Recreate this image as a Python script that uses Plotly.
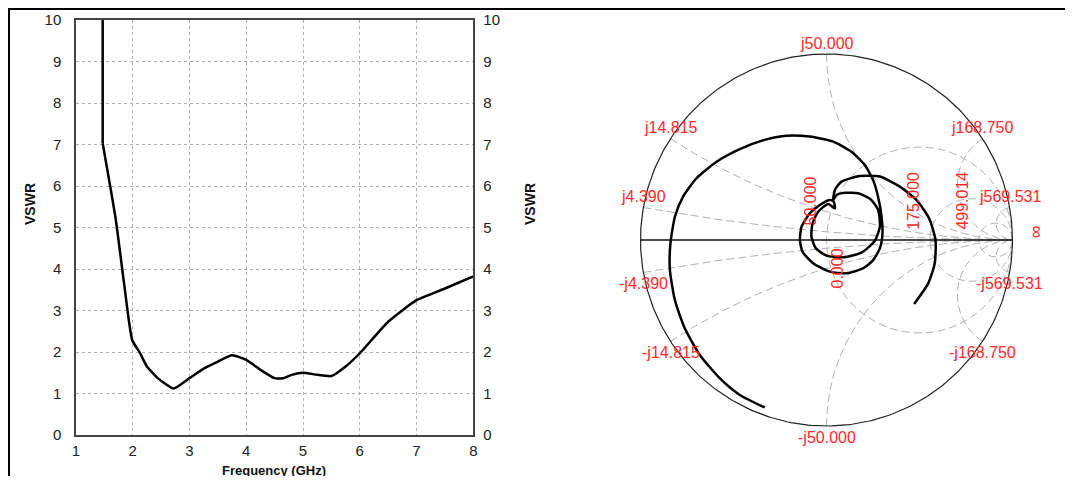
import numpy as np
import plotly.graph_objects as go

# ---------------- data: VSWR vs frequency ----------------
freq_ghz = [1.47, 1.47, 1.70, 1.85, 1.99, 2.13, 2.25, 2.44, 2.72, 3.00, 3.25, 3.50,
            3.75, 4.00, 4.25, 4.50, 4.65, 4.80, 5.00, 5.25, 5.50, 5.75, 6.00,
            6.50, 7.00, 7.50, 8.00]
vswr = [10.0, 7.03, 5.20, 3.62, 2.29, 1.97, 1.65, 1.37, 1.12, 1.37, 1.60, 1.77,
        1.92, 1.81, 1.57, 1.37, 1.37, 1.45, 1.50, 1.45, 1.42, 1.65, 1.97,
        2.73, 3.25, 3.53, 3.82]
x_ticks = [1, 2, 3, 4, 5, 6, 7, 8]
y_ticks = [0, 1, 2, 3, 4, 5, 6, 7, 8, 9, 10]

# ---------------- data: reflection coefficient (Smith chart) ----------------
gamma_re = [-0.332, -0.466, -0.573, -0.681, -0.762, -0.815, -0.842, -0.839, -0.815,
            -0.771, -0.699, -0.591, -0.466, -0.323, -0.215, -0.090, 0.036, 0.134,
            0.206, 0.254, 0.281, 0.296, 0.301, 0.287, 0.251, 0.197, 0.108, 0.018,
            -0.072, -0.129, -0.143, -0.134, -0.090, -0.036, 0.018, 0.039, 0.045,
            0.009, -0.045, -0.075, -0.081, -0.057, 0.000, 0.090, 0.188, 0.260,
            0.287, 0.278, 0.237, 0.170, 0.099, 0.054, 0.036,
            0.045, 0.081, 0.179, 0.287, 0.394, 0.484, 0.552, 0.586, 0.582, 0.547, 0.471]
gamma_im = [-0.900, -0.833, -0.744, -0.618, -0.475, -0.323, -0.161, -0.018, 0.125,
            0.233, 0.332, 0.421, 0.489, 0.541, 0.561, 0.556, 0.529, 0.475,
            0.403, 0.314, 0.215, 0.125, 0.036, -0.045, -0.108, -0.152, -0.179, -0.170,
            -0.125, -0.063, 0.000, 0.072, 0.143, 0.188, 0.215, 0.206, 0.170,
            0.194, 0.152, 0.090, 0.018, -0.045, -0.084, -0.093, -0.068, -0.004,
            0.072, 0.161, 0.219, 0.251, 0.254, 0.242, 0.215,
            0.269, 0.314, 0.344, 0.341, 0.287, 0.215, 0.116, 0.000, -0.125, -0.233, -0.344]

z0 = 50.0
resistance_ohm = [50.0, 175.0, 499.014]
reactance_ohm = [4.390, 14.815, 50.0, 168.750, 569.531]
zero_label = "0.000"

# ---------------- geometry (page pixels; page body has an 8px margin) ----------------
PAGE_W, PAGE_H = 1073, 484
OFF = 8
W, H = PAGE_W - 2 * OFF, PAGE_H - 2 * OFF


def px(x):
    return (x - OFF) / W


def py(y):
    return (PAGE_H - OFF - y) / H


FONT = "Liberation Sans, Arial, sans-serif"
GRID_COLOR = "#b0b0b0"
RED = "#ff2a2a"

fig = go.Figure()

# VSWR curve (left plot): steep vertical entry, then smooth curve
fig.add_trace(go.Scatter(x=freq_ghz[:2], y=vswr[:2], mode="lines",
                         line=dict(color="black", width=2.5),
                         xaxis="x", yaxis="y", showlegend=False, hoverinfo="skip"))
fig.add_trace(go.Scatter(x=freq_ghz[1:], y=vswr[1:], mode="lines",
                         line=dict(color="black", width=2.5, shape="spline", smoothing=0.5),
                         xaxis="x", yaxis="y", showlegend=False, hoverinfo="skip"))
fig.add_trace(go.Scatter(x=freq_ghz, y=vswr, mode="lines",
                         line=dict(color="rgba(0,0,0,0)", width=0),
                         xaxis="x", yaxis="y2", showlegend=False, hoverinfo="skip"))

# ---------------- Smith chart grid ----------------
t = np.linspace(0, 2 * np.pi, 400)
rr = np.concatenate([[0.0], np.geomspace(1e-3, 1e5, 600)])

for R in resistance_ohm:
    r = R / z0
    c, rad = r / (1 + r), 1 / (1 + r)
    fig.add_trace(go.Scatter(x=c + rad * np.cos(t), y=rad * np.sin(t), mode="lines",
                             line=dict(color=GRID_COLOR, width=1, dash="8px,4px"),
                             xaxis="x3", yaxis="y3", showlegend=False, hoverinfo="skip"))

for X in reactance_ohm:
    for s in (1, -1):
        z = rr + 1j * s * X / z0
        g = (z - 1) / (z + 1)
        fig.add_trace(go.Scatter(x=g.real, y=g.imag, mode="lines",
                                 line=dict(color=GRID_COLOR, width=1, dash="8px,4px"),
                                 xaxis="x3", yaxis="y3", showlegend=False, hoverinfo="skip"))

# outer circle and real axis
fig.add_trace(go.Scatter(x=np.cos(t), y=np.sin(t), mode="lines",
                         line=dict(color="#222", width=1.2),
                         xaxis="x3", yaxis="y3", showlegend=False, hoverinfo="skip"))
fig.add_trace(go.Scatter(x=[-1, 1], y=[0, 0], mode="lines",
                         line=dict(color="#111", width=1.5),
                         xaxis="x3", yaxis="y3", showlegend=False, hoverinfo="skip"))

# impedance locus
fig.add_trace(go.Scatter(x=gamma_re, y=gamma_im, mode="lines",
                         line=dict(color="black", width=2.5, shape="spline", smoothing=0.6),
                         xaxis="x3", yaxis="y3", showlegend=False, hoverinfo="skip"))

# ---------------- annotations ----------------
ann = []
for X in reactance_ohm:
    xn = X / z0
    gr = (xn ** 2 - 1) / (xn ** 2 + 1)
    gi = 2 * xn / (xn ** 2 + 1)
    ann.append(dict(x=gr, y=gi, xref="x3", yref="y3", text=f"j{X:.3f}", showarrow=False,
                    xanchor="center", yanchor="middle", yshift=11,
                    font=dict(family=FONT, size=16, color=RED)))
    ann.append(dict(x=gr, y=-gi, xref="x3", yref="y3", text=f"-j{X:.3f}", showarrow=False,
                    xanchor="center", yanchor="middle", yshift=-11,
                    font=dict(family=FONT, size=16, color=RED)))
for R in resistance_ohm:
    r = R / z0
    gl = (r - 1) / (r + 1)
    ann.append(dict(x=gl, y=0, xref="x3", yref="y3", text=f"{R:.3f}", showarrow=False,
                    xanchor="center", yanchor="middle", xshift=-17, yshift=39, textangle=-90,
                    font=dict(family=FONT, size=16, color=RED)))
ann.append(dict(x=0, y=0, xref="x3", yref="y3", text=zero_label, showarrow=False,
                xanchor="center", yanchor="middle", xshift=10, yshift=-29, textangle=-90,
                font=dict(family=FONT, size=16, color=RED)))
ann.append(dict(x=1, y=0, xref="x3", yref="y3", text="∞", showarrow=False,
                xanchor="center", yanchor="middle", xshift=24, yshift=8, textangle=90,
                font=dict(family=FONT, size=18, color=RED)))

ann.append(dict(x=px(30), y=py(204), xref="paper", yref="paper", text="<b>VSWR</b>",
                showarrow=False, textangle=-90, xanchor="center", yanchor="middle",
                font=dict(family=FONT, size=14, color="#111")))
ann.append(dict(x=px(530), y=py(204), xref="paper", yref="paper", text="<b>VSWR</b>",
                showarrow=False, textangle=-90, xanchor="center", yanchor="middle",
                font=dict(family=FONT, size=14, color="#111")))
ann.append(dict(x=px(274), y=0, xref="paper", yref="paper", text="<b>Frequency (GHz)</b>",
                showarrow=False, xanchor="center", yanchor="bottom", yshift=-4,
                font=dict(family=FONT, size=13, color="#111")))

# frame shapes (page edge region)
shapes = [
    dict(type="line", xref="paper", yref="paper", x0=px(8.5), x1=1, y0=py(9), y1=py(9),
         line=dict(color="black", width=2)),
    dict(type="line", xref="paper", yref="paper", x0=px(9), x1=px(9), y0=py(8), y1=0,
         line=dict(color="black", width=2)),
]

# smith chart frame: center (826.5, 240), radius 186 page px
cx, cy, R0 = 826.5, 240.0, 186.0
sx0, sx1, sy0, sy1 = 616, 1037, 30, 450

tickfont = dict(family=FONT, size=15, color="#222")
fig.update_layout(
    width=W, height=H, autosize=False,
    margin=dict(l=0, r=0, t=0, b=0, pad=0, autoexpand=False),
    paper_bgcolor="white", plot_bgcolor="white",
    showlegend=False,
    xaxis=dict(domain=[px(76), px(473.3)], range=[1, 8], tickvals=x_ticks,
               showgrid=True, gridcolor=GRID_COLOR, griddash="3px,3px", gridwidth=1,
               showline=True, linecolor="#444", linewidth=1.5, mirror=True,
               ticks="", ticklabelstandoff=1, tickfont=tickfont, zeroline=False,
               automargin=False, fixedrange=True),
    yaxis=dict(domain=[py(435), py(20)], range=[0, 10], tickvals=y_ticks,
               showgrid=True, gridcolor=GRID_COLOR, griddash="3px,3px", gridwidth=1,
               showline=True, linecolor="#444", linewidth=1.5, mirror=True,
               ticks="", ticklabelstandoff=10, tickfont=tickfont, zeroline=False,
               automargin=False, fixedrange=True),
    yaxis2=dict(overlaying="y", side="right", anchor="x", range=[0, 10], tickvals=y_ticks,
                showgrid=False, showline=False, ticks="", ticklabelstandoff=9,
                tickfont=tickfont, zeroline=False, automargin=False, fixedrange=True),
    xaxis3=dict(domain=[px(sx0), px(sx1)], automargin=False,
                range=[(sx0 - cx) / R0, (sx1 - cx) / R0], visible=False, fixedrange=True),
    yaxis3=dict(domain=[py(sy1), py(sy0)], anchor="x3", automargin=False,
                range=[(cy - sy1) / R0, (cy - sy0) / R0], visible=False, fixedrange=True),
    annotations=ann,
    shapes=shapes,
)

fig.write_html("out.html")
